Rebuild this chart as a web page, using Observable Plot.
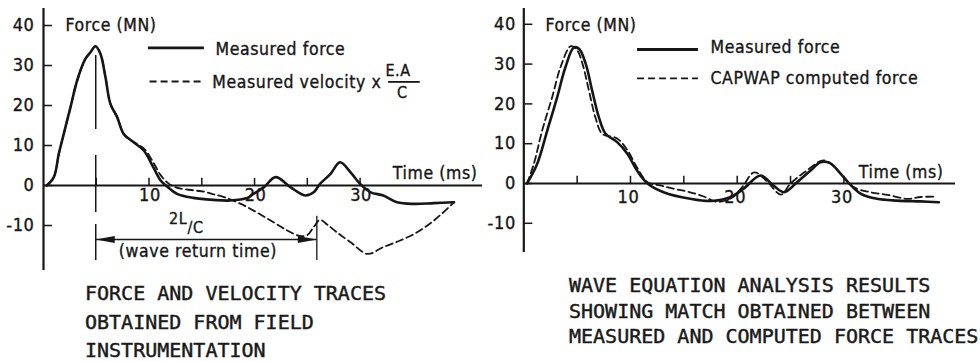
<!DOCTYPE html>
<html>
<head>
<meta charset="utf-8">
<script src="https://cdn.jsdelivr.net/npm/d3@7"></script>
<script src="https://cdn.jsdelivr.net/npm/@observablehq/plot@0.6"></script>
<style>
  html, body { margin:0; padding:0; background:#fff; }
  #wrap { position:relative; width:980px; height:362px; overflow:hidden; background:#fff; }
  .panel { position:absolute; top:0; width:490px; height:275px; }
  .cap { position:absolute; margin:0; font-family:"DejaVu Sans Mono","Liberation Mono",monospace; font-size:20px; line-height:16px; height:16px; white-space:pre; color:#1a1a1a; -webkit-text-stroke:0.45px #1a1a1a; }
</style>
</head>
<body>
<div id="wrap"></div>
<script>
// ---------- shared axis content ----------
const timeTicks = [5, 10, 15, 20, 25, 30];
const timeTickLabels = [10, 20, 30];
const forceTicks = [40, 30, 20, 10, 0, -10];
const yAxisTitle = "Force (MN)";
const xAxisTitle = "Time (ms)";

// ---------- left panel: force and velocity traces ----------
const leftForceT = [0.3, 0.98, 1.45, 1.92, 2.56, 3.19, 3.98, 4.45, 4.92, 5.4, 5.87, 6.34, 6.98, 7.6, 8.55, 9.5, 10.4, 11.1, 11.6, 12.66, 14.2, 16.1, 17.7, 19.3, 19.9, 20.9, 22, 23.4, 24.8, 25.6, 26.2, 27.2, 28.1, 29.1, 30, 31, 32.2, 33.5, 35.1, 37, 38.9];
const leftForceV = [0, 2.1, 7.9, 12.9, 19.6, 26.25, 31.7, 33.3, 34.8, 32.9, 27.1, 20.4, 17.1, 12.9, 10.8, 8.75, 4.6, 1.25, 0, -2.1, -3.1, -3.6, -3.75, -3.1, -2.1, -0.4, 2.1, -0.4, -2.5, -1.7, 0.4, 2.9, 5.8, 3.3, 0.4, -1.7, -2.5, -4.2, -4.6, -4.4, -4.2];
const leftVelT = [0.3, 0.98, 1.45, 1.92, 2.56, 3.19, 3.98, 4.45, 4.92, 5.4, 5.87, 6.34, 6.98, 7.6, 8.55, 9.5, 10.4, 11.1, 11.8, 12.5, 13, 14.2, 15.3, 16.1, 17.1, 18.7, 20.2, 21.8, 23.1, 24.3, 25.0, 25.6, 26.2, 26.9, 27.8, 29.1, 30.7, 32.2, 33.8, 35.4, 37, 38.9];
const leftVelV = [0, 2.1, 7.9, 12.9, 19.6, 26.25, 31.7, 33.3, 34.8, 32.9, 27.1, 20.4, 17.1, 12.9, 10.8, 9.3, 5.8, 2.6, 0.6, -0.4, -0.8, -1.2, -1.6, -2.2, -2.9, -4.6, -6.7, -9.2, -11.25, -12.6, -12.4, -10.4, -8.6, -9.8, -11.7, -14.2, -17.1, -15.4, -13.75, -11.7, -8.75, -4.2];
const leftLegend = ["Measured force", "Measured velocity x"];
const leftFraction = ["E.A", "C"];
const waveReturn = [4.95, 25.9];           // ms: force peak -> reflection arrival
const waveReturnLabels = ["2L", "/C", "(wave return time)"];
const leftCaption = ["FORCE AND VELOCITY TRACES", "OBTAINED FROM FIELD", "INSTRUMENTATION"];

// ---------- right panel: measured vs CAPWAP computed force ----------
const rightForceT = [0.3, 1.25, 2.2, 3.13, 3.9, 4.7, 5.2, 5.8, 6.4, 7.03, 7.66, 8.75, 9.7, 10.6, 11.6, 13.1, 15.6, 17.5, 19.4, 20.6, 22.2, 23.4, 24.4, 25.6, 26.9, 27.8, 28.7, 29.7, 30.5, 31.6, 33.1, 35, 37.2, 38.9];
const rightForceV = [0, 4.9, 13.3, 21.7, 29.2, 34.2, 33.8, 30.1, 23.4, 16.7, 12.5, 10.4, 7.5, 3.3, 0, -2.2, -3.85, -4.4, -3.4, -1.3, 2, -0.5, -2.2, 0.3, 3.3, 5.35, 5.1, 2.4, 0, -2.6, -3.85, -4.3, -4.5, -4.7];
const rightCapwapT = [0.3, 0.94, 1.72, 2.66, 3.44, 4.4, 5.0, 5.5, 6.1, 6.7, 7.35, 8.75, 9.7, 10.6, 11.6, 12.8, 14, 15.3, 16.8, 18.1, 19.5, 20.5, 21.6, 22.8, 24.1, 25.0, 26.3, 28.1, 29.1, 30, 30.9, 32.5, 34.1, 35.9, 37.2, 38.7];
const rightCapwapV = [0, 4.9, 13.3, 21.7, 29.2, 34.5, 33.5, 30.1, 23.4, 16.7, 12.5, 11.3, 8.4, 4.1, 0.3, -0.5, -1.3, -2.0, -3.2, -4.6, -3.6, -0.8, 2.8, 0.5, -2.8, 0, 2.8, 5.8, 4.2, 1.6, -0.9, -2.2, -2.85, -3.85, -3.4, -3.3];
const rightLegend = ["Measured force", "CAPWAP computed force"];
const rightCaption = ["WAVE EQUATION ANALYSIS RESULTS", "SHOWING MATCH OBTAINED BETWEEN", "MEASURED AND COMPUTED FORCE TRACES"];

// ---------- drawing ----------
const ink = "#161616";
const FONT = "'DejaVu Sans Condensed','DejaVu Sans',sans-serif";
const dash = "7,4";
const txt = {fill: ink, stroke: ink, strokeWidth: 0.35};
const headLeft = {draw(ctx) { ctx.moveTo(0, 0); ctx.lineTo(19, -3.6); ctx.lineTo(19, 3.6); ctx.closePath(); }};
const headRight = {draw(ctx) { ctx.moveTo(0, 0); ctx.lineTo(-19, -3.6); ctx.lineTo(-19, 3.6); ctx.closePath(); }};

function axisMarks(o) {
  return [
    Plot.ruleX([0], {stroke: ink, strokeWidth: 2.2}),
    Plot.ruleY([0], {stroke: ink, strokeWidth: 2}),
    Plot.ruleX(timeTicks, {x: d => d, y1: 0, y2: 1.8, stroke: ink, strokeWidth: 1.5}),
    Plot.ruleY(forceTicks, {y: d => d, x1: 0, x2: 0.85, stroke: ink, strokeWidth: 1.5}),
    Plot.text(forceTicks, {x: 0, y: d => d, text: d => String(d), textAnchor: "end", dx: o.yTickDx, fontSize: 18, ...txt}),
    Plot.text(timeTickLabels, {x: d => d, y: 0, text: d => String(d), lineAnchor: "top", dy: o.xTickDy, dx: o.xTickDx, fontSize: 18, ...txt}),
    Plot.text([yAxisTitle], {x: o.yTitle[0], y: o.yTitle[1], text: d => d, textAnchor: "start", lineAnchor: "bottom", fontSize: 17.5, ...txt}),
    Plot.text([xAxisTitle], {x: o.xTitle[0], y: o.xTitle[1], text: d => d, textAnchor: "start", lineAnchor: "bottom", fontSize: 17.5, ...txt})
  ];
}

const style = {fontFamily: FONT, fontStretch: "condensed", letterSpacing: "0.6px", background: "white", overflow: "visible"};

const left = Plot.plot({
  width: 490, height: 275,
  marginLeft: 43, marginRight: 8, marginTop: 8, marginBottom: 5,
  x: {domain: [0, 41.6], axis: null},
  y: {domain: [-21.25, 44.25], axis: null},
  style,
  marks: [
    ...axisMarks({yTickDx: -9, xTickDy: 3, xTickDx: 1, yTitle: [2.08, 38.75], xTitle: [33.1, 1.75]}),
    Plot.line(leftVelV, {x: leftVelT, y: leftVelV, curve: "catmull-rom", stroke: ink, strokeWidth: 1.8, strokeDasharray: dash}),
    Plot.line(leftForceV, {x: leftForceT, y: leftForceV, curve: "catmull-rom", stroke: ink, strokeWidth: 2.6}),
    // legend
    Plot.ruleY([34.4], {x1: 9.94, x2: 15.25, stroke: ink, strokeWidth: 2.6}),
    Plot.ruleY([26], {x1: 10.1, x2: 15.3, stroke: ink, strokeWidth: 1.8, strokeDasharray: dash}),
    Plot.text([leftLegend[0]], {x: 16.3, y: 32.75, text: d => d, textAnchor: "start", lineAnchor: "bottom", fontSize: 17.5, ...txt}),
    Plot.text([leftLegend[1]], {x: 16.0, y: 24.5, text: d => d, textAnchor: "start", lineAnchor: "bottom", fontSize: 17.5, ...txt}),
    Plot.text([leftFraction[0]], {x: 33.6, y: 27.5, text: d => d, lineAnchor: "bottom", fontSize: 16, ...txt}),
    Plot.ruleY([25.9], {x1: 32.7, x2: 35.7, stroke: ink, strokeWidth: 1.8}),
    Plot.text([leftFraction[1]], {x: 34.0, y: 21.8, text: d => d, lineAnchor: "bottom", fontSize: 16, ...txt}),
    // wave return time annotation
    Plot.ruleX([waveReturn[0]], {x: d => d, y1: 32.5, y2: -18.75, stroke: ink, strokeWidth: 1.5, strokeDasharray: "74,26,57,12,38"}),
    Plot.ruleX([waveReturn[1]], {x: d => d, y1: -7.7, y2: -18.75, stroke: ink, strokeWidth: 1.3}),
    Plot.ruleY([-13.5], {x1: waveReturn[0], x2: waveReturn[1], stroke: ink, strokeWidth: 1.3}),
    Plot.dot([waveReturn[0]], {x: d => d, y: -13.5, symbol: headLeft, fill: ink, stroke: "none"}),
    Plot.dot([waveReturn[1]], {x: d => d, y: -13.5, symbol: headRight, fill: ink, stroke: "none"}),
    Plot.text([waveReturnLabels[0]], {x: 13.64, y: -9.5, text: d => d, textAnchor: "end", lineAnchor: "bottom", fontSize: 16, ...txt}),
    Plot.text([waveReturnLabels[1]], {x: 13.64, y: -11.75, text: d => d, textAnchor: "start", lineAnchor: "bottom", fontSize: 16, ...txt}),
    Plot.text([waveReturnLabels[2]], {x: 14.63, y: -17.75, text: d => d, lineAnchor: "bottom", fontSize: 17.5, ...txt})
  ]
});

const right = Plot.plot({
  width: 490, height: 275,
  marginLeft: 33.3, marginRight: 25, marginTop: 8, marginBottom: 23,
  x: {domain: [0, 40.46], axis: null},
  y: {domain: [-17.34, 43.97], axis: null},
  style,
  marks: [
    ...axisMarks({yTickDx: -8, xTickDy: 7, xTickDx: -2, yTitle: [2.03, 38.4], xTitle: [31.4, 1.26]}),
    Plot.line(rightCapwapV, {x: rightCapwapT, y: rightCapwapV, curve: "catmull-rom", stroke: ink, strokeWidth: 1.8, strokeDasharray: dash}),
    Plot.line(rightForceV, {x: rightForceT, y: rightForceV, curve: "catmull-rom", stroke: ink, strokeWidth: 2.6}),
    Plot.ruleY([33.67], {x1: 10.66, x2: 16.37, stroke: ink, strokeWidth: 2.8}),
    Plot.ruleY([26.4], {x1: 10.66, x2: 16.37, stroke: ink, strokeWidth: 1.8, strokeDasharray: dash}),
    Plot.text([rightLegend[0]], {x: 17.5, y: 32.7, text: d => d, textAnchor: "start", lineAnchor: "bottom", fontSize: 17.5, ...txt}),
    Plot.text([rightLegend[1]], {x: 17.5, y: 24.9, text: d => d, textAnchor: "start", lineAnchor: "bottom", fontSize: 17.5, ...txt})
  ]
});

const wrap = document.getElementById("wrap");
function addPanel(svg, x) {
  const div = document.createElement("div");
  div.className = "panel";
  div.style.left = x + "px";
  div.appendChild(svg);
  wrap.appendChild(div);
}
// each caption line is its own box; baselines sit ~14.9px below the box top
function addCaption(lines, x, baselines) {
  lines.forEach((line, i) => {
    const div = document.createElement("div");
    div.className = "cap";
    div.style.left = x + "px";
    div.style.top = (baselines[i] - 14.9) + "px";
    div.textContent = line;
    wrap.appendChild(div);
  });
}
addPanel(left, 0);
addPanel(right, 490);
addCaption(leftCaption, 85, [300, 328.5, 356.5]);
addCaption(rightCaption, 569, [292.3, 318.3, 343.3]);
</script>
</body>
</html>
